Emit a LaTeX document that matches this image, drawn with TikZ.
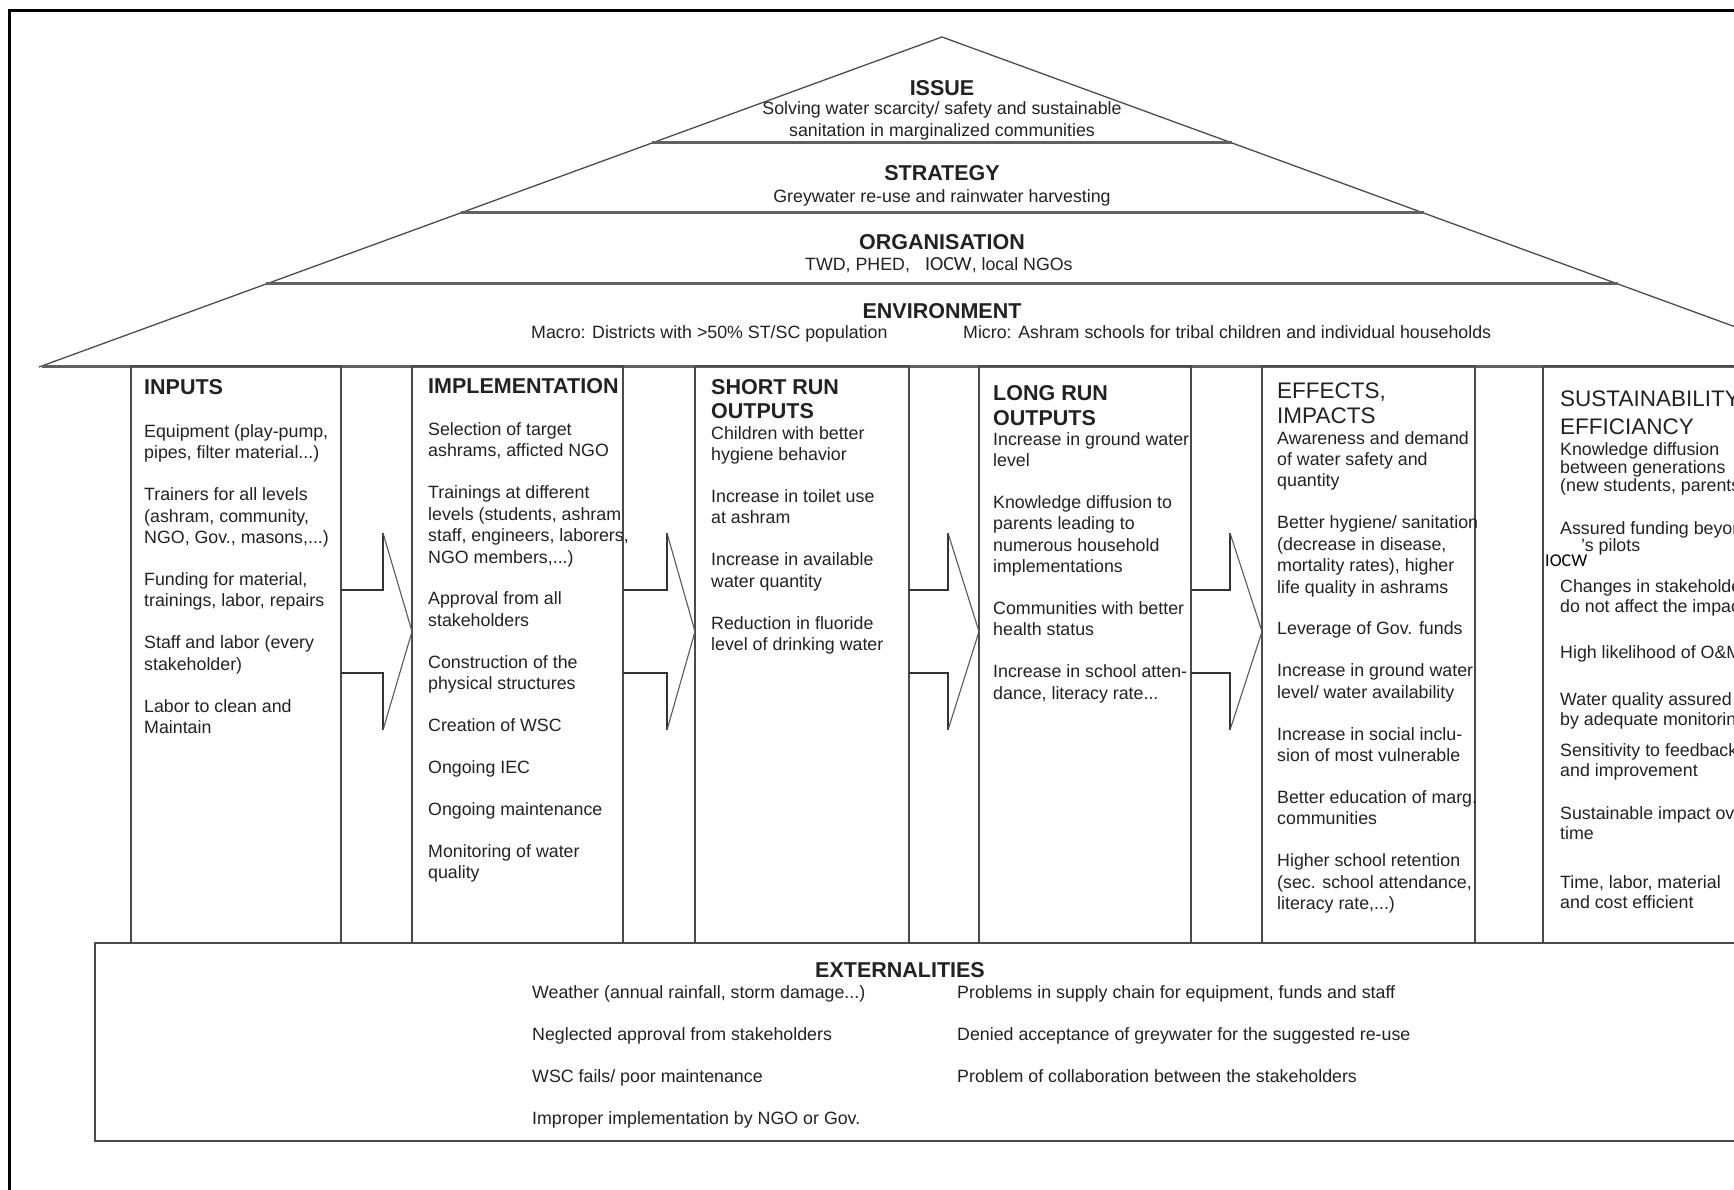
\documentclass[tikz,border=0pt]{standalone}
\usepackage{fontspec}
\setmainfont{Liberation Sans}
\newfontfamily\iocwfont{Carlito}
\newcommand\hdb{\fontsize{21.5}{25}\selectfont\bfseries}
\newcommand\hdr{\fontsize{22.5}{25}\selectfont}
\newcommand\bodyf{\fontsize{17.8}{21.4}\selectfont}
\newcommand\sbodyf{\fontsize{17.8}{20}\selectfont}
\newcommand\colt[1]{\begin{tabular}[t]{@{}l@{}}#1\end{tabular}}
\newcommand\colc[1]{\begin{tabular}[t]{@{}c@{}}#1\end{tabular}}
\definecolor{tx}{HTML}{222222}
\definecolor{ln}{HTML}{4A4A4A}
\tikzset{
  frameln/.style={line width=3pt, black},
  pyrdiag/.style={line width=1.3pt, black!70},
  pyrhor/.style={line width=3pt, black!62},
  colbox/.style={draw=ln, line width=2pt},
  blk/.style={line width=1.8pt, black!80, line join=miter},
  headln/.style={line width=1.1pt, black!65},
  txt/.style={anchor=base west, inner sep=0pt, font=\bodyf, text=tx},
  stxt/.style={txt, font=\sbodyf},
  ctitle/.style={anchor=base, inner sep=0pt, font=\hdb, text=tx},
  csub/.style={anchor=base, inner sep=0pt, font=\bodyf, text=tx},
}
\begin{document}
\begin{tikzpicture}[x=1pt,y=-1pt]
\useasboundingbox (0,0) rectangle (1734,1190);
\fill[white] (0,0) rectangle (1734,1190);
\clip (0,0) rectangle (1734,1190);

% outer frame (top and left)
\draw[frameln] (9,1195) -- (9,11) -- (1740,11);

% pyramid
\coordinate (apex) at (942,37);
\coordinate (bl) at (39,367);
\coordinate (br) at (1845,367);
\draw[pyrdiag] (bl) -- (apex) -- (br);
\draw[pyrhor] (652,143) -- (1232,143);
\draw[pyrhor] (460.5,213) -- (1423.5,213);
\draw[pyrhor] (266,284) -- (1618,284);
\draw[pyrhor] (42,366) -- (1842,366);

% column boxes
\foreach \l/\r in {131/341, 412/623, 695/909, 979/1191, 1262/1475, 1543/1800}
  \draw[colbox] (\l,366) rectangle (\r,943);

% externalities box
\draw[colbox] (95,943) rectangle (1800,1141);

% block arrows
\foreach \a/\b/\c in {341/383/412, 623/667/695, 909/948/979, 1191/1230/1262} {
  \draw[blk] (\a,590) -- (\b,590) -- (\b,533);
  \draw[blk] (\a,673) -- (\b,673) -- (\b,730);
  \draw[headln] (\b,533) -- (\c,631.5) -- (\b,730);
}

% pyramid texts
\node[ctitle] (issue) at (942,95.5) {ISSUE};
\node[csub] (issuetxt) at (942,114.7) {\colc{Solving water scarcity/ safety and sustainable\\ sanitation in marginalized communities}};
\node[ctitle] (strategy) at (942,181) {STRATEGY};
\node[csub] (strategytxt) at (942,202.5) {Greywater re-use and rainwater harvesting};
\node[ctitle] (organisation) at (942,250) {ORGANISATION};
\node[txt] (orgtxt) at (805,270.5) {TWD, PHED,\hspace{15pt}{\iocwfont\fontsize{20}{22}\selectfont IOCW}, local NGOs};
\node[ctitle] (environment) at (942,318) {ENVIRONMENT};
\node[txt] (macro) at (531,338.5) {Macro: Districts with >50\% ST/SC population};
\node[txt] (micro) at (963,338.5) {Micro: Ashram schools for tribal children and individual households};

% columns
\node[txt] (inputs) at (144,394) {\colt{\hdb INPUTS\\[22.1pt]
Equipment (play-pump,\\
pipes, filter material...)\\[20.5pt]
Trainers for all levels\\
(ashram, community,\\
NGO, Gov., masons,...)\\[20.5pt]
Funding for material,\\
trainings, labor, repairs\\[20.5pt]
Staff and labor (every\\
stakeholder)\\[20.5pt]
Labor to clean and\\
Maintain}};

\node[txt] (impl) at (428,393) {\colt{\hdb IMPLEMENTATION\\[21.1pt]
Selection of target\\
ashrams, afficted NGO\\[20.5pt]
Trainings at different\\
levels (students, ashram\\
staff, engineers, laborers,\\
NGO members,...)\\[20.5pt]
Approval from all\\
stakeholders\\[20.5pt]
Construction of the\\
physical structures\\[20.5pt]
Creation of WSC\\[20.5pt]
Ongoing IEC\\[20.5pt]
Ongoing maintenance\\[20.5pt]
Monitoring of water\\
quality}};

\node[txt] (short) at (711,394) {\colt{\hdb SHORT RUN\\[3.2pt]
\hdb OUTPUTS\\\noalign{\vskip-0.9pt}
Children with better\\
hygiene behavior\\[20.5pt]
Increase in toilet use\\
at ashram\\[20.5pt]
Increase in available\\
water quantity\\[20.5pt]
Reduction in fluoride\\
level of drinking water}};

\node[txt] (long) at (993,400) {\colt{\hdb LONG RUN\\[4.2pt]
\hdb OUTPUTS\\\noalign{\vskip-1.9pt}
Increase in ground water\\
level\\[20.5pt]
Knowledge diffusion to\\
parents leading to\\
numerous household\\
implementations\\[20.5pt]
Communities with better\\
health status\\[20.5pt]
Increase in school atten-\\
dance, literacy rate...}};

\node[txt] (effects) at (1277,398) {\colt{\hdr EFFECTS,\\[3.5pt]
\hdr IMPACTS\\\noalign{\vskip-0.9pt}
Awareness and demand\\
of water safety and\\
quantity\\[20.5pt]
Better hygiene/ sanitation\\
(decrease in disease,\\
mortality rates), higher\\
life quality in ashrams\\[20.5pt]
Leverage of Gov. funds\\[20.5pt]
Increase in ground water\\
level/ water availability\\[20.5pt]
Increase in social inclu-\\
sion of most vulnerable\\[20.5pt]
Better education of marg.\\
communities\\[20.5pt]
Higher school retention\\
(sec. school attendance,\\
literacy rate,...)}};

% sustainability column
\node[txt, font=\hdr] (sust) at (1560,406) {\colt{SUSTAINABILITY\\[3pt]EFFICIANCY}};
\node[txt, font=\fontsize{17.8}{18}\selectfont] (s1) at (1560,455) {\colt{Knowledge diffusion\\between generations\\(new students, parents)}};
\node[stxt] (s2) at (1560,534) {Assured funding beyond};
\node[stxt] (s2b) at (1581,551) {'s pilots};
\node[anchor=base west, inner sep=0pt, font=\iocwfont\fontsize{18}{20}\selectfont, text=black] (s2c) at (1545,566) {IOCW};
\node[stxt] (s3) at (1560,592) {\colt{Changes in stakeholders\\do not affect the impact}};
\node[stxt] (s4) at (1560,658) {High likelihood of O\&M};
\node[stxt] (s5) at (1560,705) {\colt{Water quality assured\\by adequate monitoring}};
\node[stxt] (s6) at (1560,756) {\colt{Sensitivity to feedback\\and improvement}};
\node[stxt] (s7) at (1560,819) {\colt{Sustainable impact over\\time}};
\node[stxt] (s8) at (1560,888) {\colt{Time, labor, material\\and cost efficient}};

% externalities
\node[ctitle] (ext) at (900,977) {EXTERNALITIES};
\node[txt] (extl) at (532,998) {\colt{Weather (annual rainfall, storm damage...)\\[20.9pt]
Neglected approval from stakeholders\\[20.9pt]
WSC fails/ poor maintenance\\[20.9pt]
Improper implementation by NGO or Gov.}};
\node[txt] (extr) at (957,998) {\colt{Problems in supply chain for equipment, funds and staff\\[20.9pt]
Denied acceptance of greywater for the suggested re-use\\[20.9pt]
Problem of collaboration between the stakeholders}};
\end{tikzpicture}
\end{document}
